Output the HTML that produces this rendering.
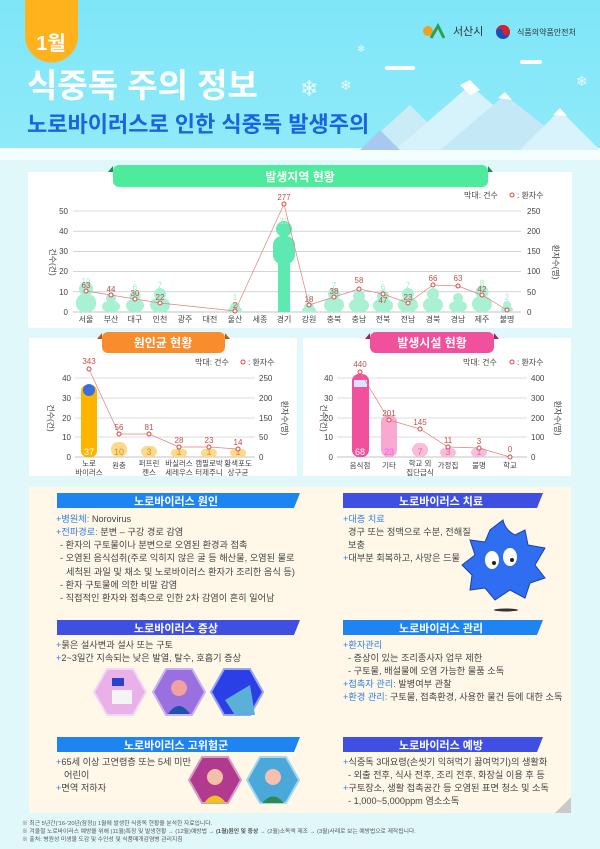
<!DOCTYPE html>
<html><head><meta charset="utf-8"><style>
html,body{margin:0;padding:0;width:600px;height:849px;overflow:hidden;background:#e2f9fb}
svg{display:block}
text{font-family:"Liberation Sans","Noto Sans CJK KR",sans-serif}
</style></head><body>
<svg width="600" height="849" viewBox="0 0 600 849" xmlns="http://www.w3.org/2000/svg">
<defs>
<linearGradient id="sky" x1="0" y1="0" x2="0" y2="1"><stop offset="0" stop-color="#7ee6f8"/><stop offset="1" stop-color="#8feaf8"/></linearGradient>
</defs>
<rect width="600" height="849" fill="#e1f8fb"/>
<rect width="600" height="150" fill="url(#sky)"/>
<rect y="148" width="600" height="12" fill="#f4feff"/>
<polygon points="360,150 410,105 455,150" fill="#c9ecf7"/>
<polygon points="395,150 470,85 545,150" fill="#d6f2fb"/>
<polygon points="440,150 505,95 575,150" fill="#c4e8f5"/>
<polygon points="520,150 560,110 600,150" fill="#d8f3fb"/>
<polygon points="360,150 380,130 400,150" fill="#a9c8f0"/>
<polygon points="460,85 470,80 480,90 470,95" fill="#fff"/>
<polygon points="498,98 505,92 512,100" fill="#fff"/>
<polygon points="553,115 560,108 567,116" fill="#fff"/>
<rect x="385" y="66" width="30" height="4" fill="#fff" rx="2"/>
<rect x="520" y="60" width="22" height="4" fill="#fff" rx="2"/>
<text x="300" y="96" font-size="22" fill="#fff" opacity="0.8">❄</text>
<text x="340" y="90" font-size="14" fill="#fff" opacity="0.8">❄</text>
<text x="357" y="52" font-size="10" fill="#fff" opacity="0.8">❄</text>
<text x="576" y="86" font-size="14" fill="#fff" opacity="0.8">❄</text>
<path d="M25 0 H78 V36 A26.5 26.5 0 0 1 25 36 Z" fill="#ffb21c"/>
<text x="51" y="50" font-size="20" font-weight="bold" fill="#fff" text-anchor="middle">1월</text>
<circle cx="428" cy="31" r="5" fill="#f0a020"/><path d="M431 38 L438 26 L444 38" stroke="#2aa050" stroke-width="3" fill="none"/>
<text x="453" y="35" font-size="11" fill="#333">서산시</text>
<circle cx="503" cy="32" r="7" fill="#1a4fb8"/><path d="M496 32 A7 7 0 0 1 510 32 A3.5 3.5 0 0 1 503 32 A3.5 3.5 0 0 0 496 32Z" fill="#d8202e"/>
<text x="517" y="35" font-size="8" fill="#333">식품의약품안전처</text>
<text x="27" y="97" font-size="33" font-weight="bold" fill="#fff">식중독 주의 정보</text>
<text x="27" y="132" font-size="22" font-weight="bold" fill="#1a64e0">노로바이러스로 인한 식중독 발생주의</text>

<rect x="28" y="172" width="544" height="156" fill="#fff"/>
<polygon points="108,172 113,166 113,172" fill="#1e8a55"/><polygon points="493,172 488,166 488,172" fill="#1e8a55"/>
<rect x="113" y="165" width="375" height="22" rx="6" fill="#4feb9c"/>
<text x="300" y="181" font-size="12" font-weight="bold" fill="#fff" text-anchor="middle">발생지역 현황</text>
<text x="464" y="198" font-size="8" fill="#444">막대: 건수</text>
<circle cx="512" cy="195" r="2" fill="none" stroke="#d44" stroke-width="1"/>
<text x="517" y="198" font-size="8" fill="#444">: 환자수</text>
<g stroke="#bbb" stroke-width="0.6">
<line x1="73" y1="211" x2="521" y2="211"/><line x1="73" y1="231.2" x2="521" y2="231.2"/><line x1="73" y1="251.4" x2="521" y2="251.4"/><line x1="73" y1="271.6" x2="521" y2="271.6"/><line x1="73" y1="291.8" x2="521" y2="291.8"/><line x1="73" y1="312" x2="521" y2="312" stroke="#888"/>
</g>
<g font-size="8" fill="#444" text-anchor="end">
<text x="68" y="214">50</text><text x="68" y="234">40</text><text x="68" y="254">30</text><text x="68" y="274">20</text><text x="68" y="295">10</text><text x="68" y="315">0</text>
</g>
<g font-size="8" fill="#444">
<text x="527" y="214">250</text><text x="527" y="234">200</text><text x="527" y="254">150</text><text x="527" y="274">100</text><text x="527" y="295">50</text><text x="527" y="315">0</text>
</g>
<text transform="translate(50,262) rotate(90)" font-size="8" fill="#444" text-anchor="middle">건수(건)</text>
<text transform="translate(553,262) rotate(90)" font-size="8" fill="#444" text-anchor="middle">환자수(명)</text>
<g fill="#a8f2d3">
<circle cx="86" cy="289" r="7"/><rect x="76" y="294" width="20" height="18" rx="8"/>
<circle cx="111" cy="298" r="5"/><rect x="102" y="301" width="18" height="11" rx="7"/>
<circle cx="135" cy="296" r="5.5"/><rect x="126" y="299" width="18" height="13" rx="7"/>
<circle cx="160" cy="294" r="6"/><rect x="150" y="298" width="20" height="14" rx="7"/>
<circle cx="235" cy="307" r="5"/><rect x="228" y="308" width="14" height="4" rx="2"/>
<circle cx="309" cy="307" r="5"/><rect x="302" y="308" width="14" height="4" rx="2"/>
<circle cx="334" cy="294" r="6"/><rect x="324" y="298" width="20" height="14" rx="7"/>
<circle cx="359" cy="296" r="6"/><rect x="349" y="299" width="20" height="13" rx="7"/>
<circle cx="383" cy="296" r="6"/><rect x="373" y="299" width="20" height="13" rx="7"/>
<circle cx="408" cy="294" r="6"/><rect x="398" y="298" width="20" height="14" rx="7"/>
<circle cx="433" cy="294" r="6"/><rect x="423" y="298" width="20" height="14" rx="7"/>
<circle cx="458" cy="298" r="5"/><rect x="449" y="301" width="18" height="11" rx="7"/>
<circle cx="482" cy="292" r="6.5"/><rect x="472" y="296" width="20" height="16" rx="8"/>
<circle cx="507" cy="305" r="4"/><rect x="501" y="307" width="12" height="5" rx="3"/>
</g>
<g fill="#5ee9b2">
<circle cx="284" cy="229" r="8"/><rect x="273" y="236" width="22" height="28" rx="9"/><rect x="278" y="250" width="12" height="62"/>
</g>
<g font-size="8" fill="#9feccb" text-anchor="middle">
<text x="86" y="284">10</text><text x="111" y="292">5</text><text x="135" y="290">6</text><text x="160" y="288">7</text><text x="235" y="300">1</text><text x="284" y="224">32</text><text x="309" y="300">1</text><text x="334" y="288">7</text><text x="383" y="290">6</text><text x="408" y="288">7</text><text x="482" y="286">8</text><text x="507" y="300">2</text>
</g>
<polyline fill="none" stroke="#e08080" stroke-width="0.7" points="86,291 111,295 135,299 160,303 235,311 284,204 309,305 334,297 359,289 383,294 408,303 433,285 458,286 482,295 507,310"/>
<g fill="#fff" stroke="#d44" stroke-width="1">
<circle cx="86" cy="291" r="2"/><circle cx="111" cy="295" r="2"/><circle cx="135" cy="299" r="2"/><circle cx="160" cy="303" r="2"/><circle cx="235" cy="311" r="2"/><circle cx="284" cy="204" r="2"/><circle cx="309" cy="305" r="2"/><circle cx="334" cy="297" r="2"/><circle cx="359" cy="289" r="2"/><circle cx="383" cy="294" r="2"/><circle cx="408" cy="303" r="2"/><circle cx="433" cy="285" r="2"/><circle cx="458" cy="286" r="2"/><circle cx="482" cy="295" r="2"/><circle cx="507" cy="310" r="2"/>
</g>
<g font-size="8" fill="#c0504d" text-anchor="middle">
<text x="86" y="288">63</text><text x="111" y="292">44</text><text x="135" y="296">30</text><text x="160" y="300">22</text><text x="235" y="308">2</text><text x="284" y="200">277</text><text x="309" y="302">18</text><text x="334" y="294">38</text><text x="359" y="283">58</text><text x="383" y="303">47</text><text x="408" y="300">23</text><text x="433" y="281">66</text><text x="458" y="281">63</text><text x="482" y="292">42</text>
</g>
<g font-size="8" fill="#444" text-anchor="middle">
<text x="86" y="322">서울</text><text x="111" y="322">부산</text><text x="135" y="322">대구</text><text x="160" y="322">인천</text><text x="185" y="322">광주</text><text x="210" y="322">대전</text><text x="235" y="322">울산</text><text x="260" y="322">세종</text><text x="284" y="322">경기</text><text x="309" y="322">강원</text><text x="334" y="322">충북</text><text x="359" y="322">충남</text><text x="383" y="322">전북</text><text x="408" y="322">전남</text><text x="433" y="322">경북</text><text x="458" y="322">경남</text><text x="482" y="322">제주</text><text x="507" y="322">불명</text>
</g>

<rect x="29" y="338" width="268" height="138" fill="#fff"/>
<polygon points="97,339 102,333 102,339" fill="#b85a10"/><polygon points="230,339 225,333 225,339" fill="#b85a10"/>
<rect x="102" y="332" width="123" height="21" rx="6" fill="#f98c2c"/>
<text x="163" y="347" font-size="12" font-weight="bold" fill="#fff" text-anchor="middle">원인균 현황</text>
<text x="195" y="365" font-size="8" fill="#444">막대: 건수</text>
<circle cx="243" cy="362" r="2" fill="none" stroke="#d44"/><text x="248" y="365" font-size="8" fill="#444">: 환자수</text>
<g stroke="#bbb" stroke-width="0.6">
<line x1="75" y1="378" x2="255" y2="378"/><line x1="75" y1="398" x2="255" y2="398"/><line x1="75" y1="418" x2="255" y2="418"/><line x1="75" y1="437" x2="255" y2="437"/><line x1="75" y1="457" x2="255" y2="457" stroke="#888"/>
</g>
<g font-size="8" fill="#444" text-anchor="end"><text x="71" y="381">40</text><text x="71" y="401">30</text><text x="71" y="421">20</text><text x="71" y="440">10</text><text x="71" y="460">0</text></g>
<g font-size="8" fill="#444"><text x="259" y="381">250</text><text x="259" y="401">200</text><text x="259" y="421">150</text><text x="259" y="440">50</text><text x="259" y="460">0</text></g>
<text transform="translate(48,418) rotate(90)" font-size="8" fill="#444" text-anchor="middle">건수(건)</text>
<text transform="translate(282,418) rotate(90)" font-size="8" fill="#444" text-anchor="middle">환자수(명)</text>
<rect x="81" y="385" width="16" height="72" rx="6" fill="#ffb400"/>
<circle cx="89" cy="390" r="6" fill="#3a6ee0"/>
<g fill="#ffd98a">
<rect x="111" y="442" width="16" height="15" rx="7"/><rect x="141" y="446" width="16" height="11" rx="6"/><rect x="171" y="449" width="16" height="8" rx="4"/><rect x="201" y="449" width="16" height="8" rx="4"/><rect x="230" y="449" width="16" height="8" rx="4"/>
</g>
<g font-size="9" fill="#fff" text-anchor="middle"><text x="89" y="455">37</text></g>
<g font-size="9" fill="#d89020" text-anchor="middle"><text x="119" y="455">10</text><text x="149" y="455">3</text><text x="179" y="455">1</text><text x="209" y="455">1</text><text x="238" y="455">1</text></g>
<polyline fill="none" stroke="#e08080" stroke-width="0.7" points="89,369 119,434 149,434 179,447 209,447 238,449"/>
<g fill="#fff" stroke="#d44"><circle cx="89" cy="369" r="2"/><circle cx="119" cy="434" r="2"/><circle cx="149" cy="434" r="2"/><circle cx="179" cy="447" r="2"/><circle cx="209" cy="447" r="2"/><circle cx="238" cy="449" r="2"/></g>
<g font-size="8" fill="#c0504d" text-anchor="middle"><text x="89" y="364">343</text><text x="119" y="430">56</text><text x="149" y="430">81</text><text x="179" y="443">28</text><text x="209" y="443">23</text><text x="238" y="445">14</text></g>
<g font-size="7.5" fill="#444" text-anchor="middle">
<text x="89" y="466">노로</text><text x="89" y="475">바이러스</text><text x="119" y="468">원충</text><text x="149" y="466">퍼프린</text><text x="149" y="475">젠스</text><text x="179" y="466">바실러스</text><text x="179" y="475">세레우스</text><text x="209" y="466">캠필로박</text><text x="209" y="475">터제주니</text><text x="238" y="466">황색포도</text><text x="238" y="475">상구균</text>
</g>

<rect x="303" y="338" width="268" height="138" fill="#fff"/>
<polygon points="365,339 370,333 370,339" fill="#a02060"/><polygon points="499,339 494,333 494,339" fill="#a02060"/>
<rect x="370" y="332" width="124" height="21" rx="6" fill="#f0509c"/>
<text x="432" y="347" font-size="12" font-weight="bold" fill="#fff" text-anchor="middle">발생시설 현황</text>
<text x="463" y="365" font-size="8" fill="#444">막대: 건수</text>
<circle cx="512" cy="362" r="2" fill="none" stroke="#d44"/><text x="517" y="365" font-size="8" fill="#444">: 환자수</text>
<g stroke="#bbb" stroke-width="0.6">
<line x1="337" y1="378" x2="527" y2="378"/><line x1="337" y1="398" x2="527" y2="398"/><line x1="337" y1="418" x2="527" y2="418"/><line x1="337" y1="437" x2="527" y2="437"/><line x1="337" y1="457" x2="527" y2="457" stroke="#888"/>
</g>
<g font-size="8" fill="#444" text-anchor="end"><text x="333" y="381">40</text><text x="333" y="401">30</text><text x="333" y="421">20</text><text x="333" y="440">10</text><text x="333" y="460">0</text></g>
<g font-size="8" fill="#444"><text x="531" y="381">400</text><text x="531" y="401">300</text><text x="531" y="421">200</text><text x="531" y="440">100</text><text x="531" y="460">0</text></g>
<text transform="translate(321,418) rotate(90)" font-size="8" fill="#444" text-anchor="middle">건수(건)</text>
<text transform="translate(555,418) rotate(90)" font-size="8" fill="#444" text-anchor="middle">환자수(명)</text>
<rect x="352" y="374" width="17" height="83" rx="7" fill="#f0509c"/>
<rect x="354" y="380" width="13" height="7" fill="#dde4ff"/>
<rect x="381" y="415" width="16" height="42" rx="7" fill="#f9a9cf"/>
<g fill="#f9bcda"><rect x="412" y="443" width="16" height="14" rx="7"/><rect x="440" y="448" width="16" height="9" rx="5"/><rect x="471" y="448" width="16" height="9" rx="5"/></g>
<g font-size="9" text-anchor="middle"><text x="360" y="455" fill="#fff">68</text><text x="389" y="455" fill="#f5e">23</text><text x="420" y="455" fill="#e06aa5">7</text><text x="448" y="455" fill="#e06aa5">3</text><text x="479" y="455" fill="#e06aa5">1</text></g>
<polyline fill="none" stroke="#e08080" stroke-width="0.7" points="360,372 389,420 420,429 448,447 479,448 510,457"/>
<g fill="#fff" stroke="#d44"><circle cx="360" cy="372" r="2"/><circle cx="389" cy="420" r="2"/><circle cx="420" cy="429" r="2"/><circle cx="448" cy="447" r="2"/><circle cx="479" cy="448" r="2"/><circle cx="510" cy="457" r="2"/></g>
<g font-size="8" fill="#c0504d" text-anchor="middle"><text x="360" y="367">440</text><text x="389" y="416">201</text><text x="420" y="425">145</text><text x="448" y="443">11</text><text x="479" y="444">3</text><text x="510" y="452">0</text></g>
<g font-size="7.5" fill="#444" text-anchor="middle">
<text x="360" y="468">음식점</text><text x="389" y="468">기타</text><text x="420" y="466">학교 외</text><text x="420" y="475">집단급식</text><text x="448" y="468">가정집</text><text x="479" y="468">불명</text><text x="510" y="468">학교</text>
</g>

<rect x="29" y="487" width="542" height="326" fill="#fff8e9"/>
<polygon points="555,813 571,797 571,813" fill="#c9c9c9"/>
<g font-size="11" font-weight="bold" fill="#fff" text-anchor="middle">
<polygon points="57,493 300,493 294,508 57,508" fill="#1e84f2"/><text x="176" y="505">노로바이러스 원인</text>
<polygon points="343,493 543,493 537,508 343,508" fill="#3e4fe2"/><text x="441" y="505">노로바이러스 치료</text>
<polygon points="57,620 300,620 294,635 57,635" fill="#3e4fe2"/><text x="176" y="632">노로바이러스 증상</text>
<polygon points="343,620 543,620 537,635 343,635" fill="#1e84f2"/><text x="441" y="632">노로바이러스 관리</text>
<polygon points="57,737 300,737 294,752 57,752" fill="#1e84f2"/><text x="176" y="749">노로바이러스 고위험군</text>
<polygon points="343,737 543,737 537,752 343,752" fill="#3e4fe2"/><text x="441" y="749">노로바이러스 예방</text>
</g>
<g font-size="9.2" fill="#444">
<text x="56" y="522"><tspan fill="#2f7fe6">+병원체:</tspan> Norovirus</text>
<text x="56" y="535"><tspan fill="#2f7fe6">+전파경로:</tspan> 분변 – 구강 경로 감염</text>
<text x="60" y="548">- 환자의 구토물이나 분변으로 오염된 환경과 접촉</text>
<text x="60" y="561">- 오염된 음식섭취(주로 익히지 않은 굴 등 해산물, 오염된 물로</text>
<text x="66" y="575">세척된 과일 및 채소 및 노로바이러스 환자가 조리한 음식 등)</text>
<text x="60" y="588">- 환자 구토물에 의한 비말 감염</text>
<text x="60" y="601">- 직접적인 환자와 접촉으로 인한 2차 감염이 흔히 일어남</text>
<text x="343" y="522"><tspan fill="#2f7fe6">+대증 치료</tspan></text>
<text x="348" y="535">경구 또는 정맥으로 수분, 전해질</text>
<text x="348" y="548">보충</text>
<text x="343" y="561"><tspan fill="#2f7fe6">+</tspan>대부분 회복하고, 사망은 드물</text>
<text x="56" y="648"><tspan fill="#2f7fe6">+</tspan>묽은 설사변과 설사 또는 구토</text>
<text x="56" y="661"><tspan fill="#2f7fe6">+</tspan>2~3일간 지속되는 낮은 발열, 탈수, 호흡기 증상</text>
<text x="343" y="648"><tspan fill="#2f7fe6">+환자관리</tspan></text>
<text x="348" y="661">- 증상이 있는 조리종사자 업무 제한</text>
<text x="348" y="674">- 구토물, 배설물에 오염 가능한 물품 소독</text>
<text x="343" y="687"><tspan fill="#2f7fe6">+접촉자 관리:</tspan> 발병여부 관찰</text>
<text x="343" y="700"><tspan fill="#2f7fe6">+환경 관리:</tspan> 구토물, 접촉환경, 사용한 물건 등에 대한 소독</text>
<text x="56" y="765"><tspan fill="#2f7fe6">+</tspan>65세 이상 고연령층 또는 5세 미만</text>
<text x="64" y="778">어린이</text>
<text x="56" y="791"><tspan fill="#2f7fe6">+</tspan>면역 저하자</text>
<text x="343" y="765"><tspan fill="#2f7fe6">+</tspan>식중독 3대요령(손씻기 익혀먹기 끓여먹기)의 생활화</text>
<text x="348" y="778">- 외출 전후, 식사 전후, 조리 전후, 화장실 이용 후 등</text>
<text x="343" y="791"><tspan fill="#2f7fe6">+</tspan>구토장소, 생활 접촉공간 등 오염된 표면 청소 및 소독</text>
<text x="348" y="804">- 1,000~5,000ppm 염소소독</text>
</g>
<g stroke-width="2">
<polygon points="94,692 107,669 133,669 146,692 133,715 107,715" fill="#eab0e8" stroke="#f3d6f2"/>
<polygon points="153,692 166,669 192,669 205,692 192,715 166,715" fill="#9a70e0" stroke="#c8b4f0"/>
<polygon points="211,692 224,669 250,669 263,692 250,715 224,715" fill="#2b3fe6" stroke="#9aa4f4"/>
<polygon points="189,780 202,757 228,757 241,780 228,803 202,803" fill="#b03a8e" stroke="#d79ac6"/>
<polygon points="247,780 260,757 286,757 299,780 286,803 260,803" fill="#4aa9d8" stroke="#a4d6ee"/>
</g>
<rect x="112" y="690" width="20" height="14" fill="#f4f4f4"/><rect x="112" y="678" width="12" height="8" fill="#2a40d0"/>
<circle cx="179" cy="688" r="8" fill="#f2a0a0"/><path d="M168 714 Q179 698 190 714Z" fill="#2050b0"/>
<path d="M225 700 L250 685 L255 715 L235 715Z" fill="#5ab0d8"/>
<circle cx="215" cy="777" r="8" fill="#f5c0a8"/><path d="M204 803 Q215 788 226 803Z" fill="#f0c020"/>
<circle cx="273" cy="777" r="8" fill="#f5c0b0"/><path d="M262 803 Q273 790 284 803Z" fill="#2a8a50"/>
<path d="M503 520 Q505 530 515 535 L525 530 L528 545 L545 548 L535 565 L545 578 L530 583 L525 598 L510 590 L495 600 L485 588 L470 590 L472 575 L462 565 L475 555 L470 540 L485 542 L490 530 Z" fill="#2f6ef0" stroke="#1840b0" stroke-width="1"/>
<ellipse cx="492" cy="560" rx="7" ry="9" fill="#fff"/><ellipse cx="510" cy="557" rx="7" ry="9" fill="#fff"/>
<circle cx="494" cy="563" r="2" fill="#222"/><circle cx="512" cy="560" r="2" fill="#222"/>
<ellipse cx="506" cy="610" rx="12" ry="1.5" fill="#333"/>
<g font-size="5.8" fill="#555">
<text x="22" y="825">※ 최근 5년간('16-'20년(잠정)) 1월에 발생한 식중독 현황을 분석한 자료입니다.</text>
<text x="22" y="833">※ 겨울철 노로바이러스 예방을 위해 (11월)특징 및 발생현황 → (12월)예방법 → <tspan font-weight="bold">(1월)원인 및 증상</tspan> → (2월)소독액 제조 → (3월)사례로 보는 예방법으로 제작됩니다.</text>
<text x="22" y="841">※ 출처: 병원성 미생물 도감 및 수인성 및 식품매개감염병 관리지침</text>
</g>
</svg>
</body></html>
